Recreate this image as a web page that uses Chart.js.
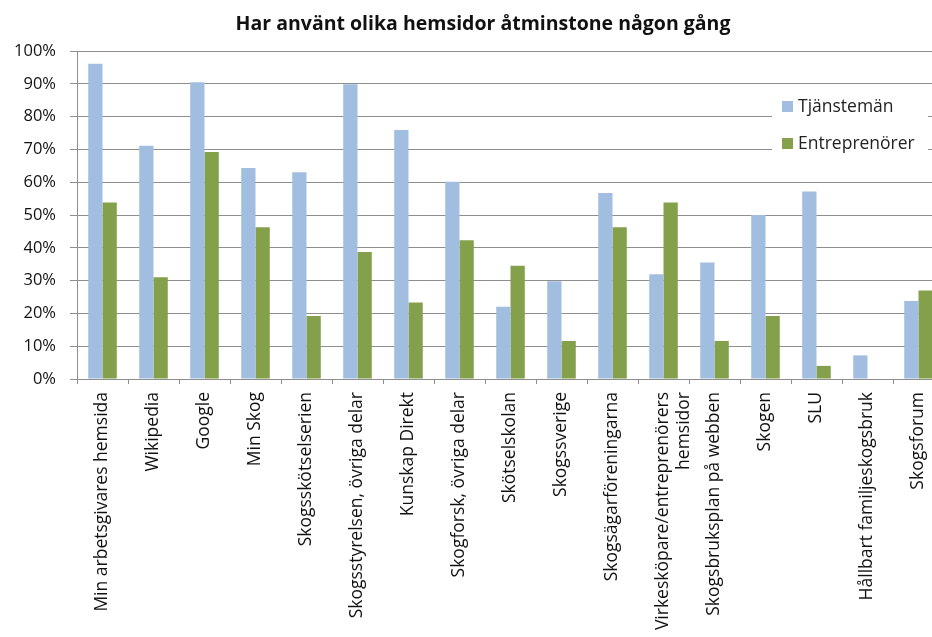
<!DOCTYPE html>
<html>
<head>
<meta charset="utf-8">
<script src="https://cdn.jsdelivr.net/npm/chart.js@4"></script>
<style>
html, body { margin: 0; padding: 0; background: #fff; overflow: hidden; }
#wrap { width: 950px; height: 637px; }
</style>
</head>
<body>
<div id="wrap"><canvas id="mycanvas" width="950" height="637"></canvas></div>
<script>
var sites = [
	'Min arbetsgivares hemsida', 'Wikipedia', 'Google', 'Min Skog', 'Skogsskötselserien',
	'Skogsstyrelsen, övriga delar', 'Kunskap Direkt', 'Skogforsk, övriga delar', 'Skötselskolan',
	'Skogssverige', 'Skogsägarföreningarna', ['Virkesköpare/entreprenörers', 'hemsidor'],
	'Skogsbruksplan på webben', 'Skogen', 'SLU', 'Hållbart familjeskogsbruk', 'Skogsforum'
];
var tjanstemanValues = [96.1, 71.1, 90.5, 64.3, 63.0, 89.9, 75.9, 60.1, 22.0, 29.8, 56.7, 31.9, 35.5, 50.0, 57.2, 7.2, 23.8];
var entreprenorValues = [53.8, 31.0, 69.2, 46.3, 19.2, 38.7, 23.3, 42.3, 34.5, 11.6, 46.3, 53.8, 11.6, 19.2, 4.0, 0, 27.0];
var yTicks = [0, 10, 20, 30, 40, 50, 60, 70, 80, 90, 100];
var chartTitle = 'Har använt olika hemsidor åtminstone någon gång';

var blue = '#a1bee0';
var green = '#84a04b';
var gridGrey = '#8e8e8e';
var font = '"Open Sans", sans-serif';

// title is drawn by hand so it can sit a bit right of the canvas middle, as in the original
var titlePlugin = {
	id: 'titlePlugin',
	afterDraw: function(chart){
		var c = chart.ctx;
		c.save();
		c.font = 'bold 19.5px ' + font;
		c.fillStyle = '#111';
		c.textAlign = 'center';
		c.textBaseline = 'alphabetic';
		c.fillText(chartTitle, 483, 30);
		c.restore();
	}
};

// legend box sitting on top of the plot, like the Excel original
var boxLegend = {
	id: 'boxLegend',
	afterDatasetsDraw: function(chart){
		var c = chart.ctx;
		var x = 772, y = 90;
		c.save();
		c.fillStyle = '#fff';
		c.fillRect(x, y, 156, 76);
		c.font = '17.5px ' + font;
		c.textBaseline = 'middle';
		chart.data.datasets.forEach(function(ds, i){
			var yy = y + 16 + i * 37;
			c.fillStyle = ds.backgroundColor;
			c.fillRect(x + 10, yy - 5, 11, 11);
			c.fillStyle = '#222';
			c.fillText(ds.label, x + 26, yy + 1);
		});
		c.restore();
	}
};

var ctx = document.getElementById('mycanvas');
var barGraph = new Chart(ctx, {
	type: 'bar',
	data: {
		labels: sites,
		datasets: [
			{ label: 'Tjänstemän', backgroundColor: blue, data: tjanstemanValues },
			{ label: 'Entreprenörer', backgroundColor: green, data: entreprenorValues }
		]
	},
	options: {
		responsive: false,
		animation: false,
		events: [],
		categoryPercentage: 0.56,
		barPercentage: 1.0,
		layout: { padding: { left: 0, right: 6, top: 51, bottom: 0 } },
		plugins: {
			legend: { display: false },
			tooltip: { enabled: false },
			title: { display: false }
		},
		scales: {
			x: {
				grid: { display: true, drawOnChartArea: false, offset: true, color: gridGrey, tickLength: 5 },
				border: { color: gridGrey },
				ticks: {
					color: '#111',
					font: { family: font, size: 17.5 },
					maxRotation: 90,
					minRotation: 90,
					autoSkip: false,
					padding: 8
				},
				afterFit: function(scale){ scale.height = 258; }
			},
			y: {
				min: 0,
				max: 100,
				afterBuildTicks: function(scale){
					scale.ticks = yTicks.map(function(v){ return { value: v }; });
				},
				grid: { color: gridGrey, tickLength: 7 },
				border: { color: gridGrey },
				ticks: {
					color: '#111',
					font: { family: font, size: 16.5 },
					padding: 14,
					callback: function(v){ return v + '%'; }
				},
				afterFit: function(scale){ scale.width = 77; }
			}
		}
	},
	plugins: [boxLegend, titlePlugin]
});
</script>
</body>
</html>
